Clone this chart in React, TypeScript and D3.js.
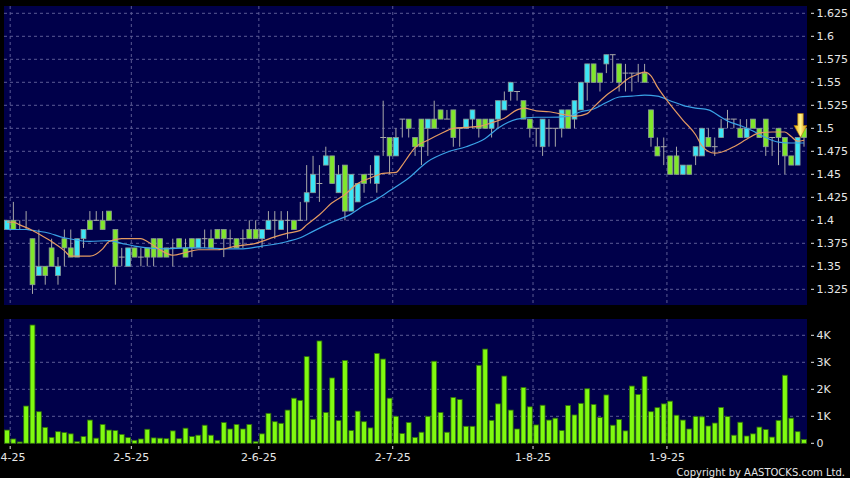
import React from "react";
import * as d3 from "d3";

// ---- data ----
const monthIdx = [1, 20, 40, 61, 83, 104];
const monthLabels = ["4-25", "2-5-25", "2-6-25", "2-7-25", "1-8-25", "1-9-25"];
const priceTicks = [1.325, 1.35, 1.375, 1.4, 1.425, 1.45, 1.475, 1.5, 1.525, 1.55, 1.575, 1.6, 1.625];
const priceTickLabels = ["1.325", "1.35", "1.375", "1.4", "1.425", "1.45", "1.475", "1.5", "1.525", "1.55", "1.575", "1.6", "1.625"];
const volTicks = [0, 1000, 2000, 3000, 4000];
const volTickLabels = ["0", "1K", "2K", "3K", "4K"];

const openP = [
  1.39, 1.40, 1.39, 1.39, 1.38, 1.34, 1.35, 1.37, 1.34, 1.38,
  1.37, 1.36, 1.38, 1.40, 1.40, 1.40, 1.41, 1.39, 1.36, 1.35,
  1.37, 1.36, 1.37, 1.38, 1.38, 1.37, 1.37, 1.38, 1.37, 1.38,
  1.37, 1.38, 1.38, 1.39, 1.39, 1.38, 1.38, 1.38, 1.39, 1.39,
  1.38, 1.39, 1.40, 1.39, 1.40, 1.40, 1.40, 1.42, 1.43, 1.44,
  1.46, 1.47, 1.43, 1.46, 1.41, 1.42, 1.45, 1.45, 1.44, 1.49,
  1.49, 1.47, 1.51, 1.51, 1.49, 1.51, 1.50, 1.51, 1.52, 1.51,
  1.52, 1.50, 1.50, 1.51, 1.51, 1.51, 1.50, 1.51, 1.52, 1.54,
  1.54, 1.53, 1.51, 1.50, 1.48, 1.50, 1.50, 1.50, 1.52, 1.51,
  1.52, 1.55, 1.57, 1.56, 1.57, 1.58, 1.57, 1.56, 1.56, 1.56,
  1.56, 1.52, 1.48, 1.48, 1.47, 1.47, 1.45, 1.46, 1.47, 1.47,
  1.49, 1.48, 1.49, 1.51, 1.51, 1.50, 1.49, 1.51, 1.50, 1.51,
  1.49, 1.50, 1.49, 1.47, 1.46, 1.50,
];
const closeP = [
  1.40, 1.39, 1.39, 1.39, 1.33, 1.35, 1.34, 1.35, 1.35, 1.37,
  1.36, 1.38, 1.39, 1.39, 1.40, 1.39, 1.40, 1.35, 1.36, 1.37,
  1.36, 1.36, 1.36, 1.36, 1.36, 1.36, 1.37, 1.37, 1.36, 1.37,
  1.38, 1.38, 1.37, 1.38, 1.38, 1.38, 1.37, 1.38, 1.38, 1.38,
  1.39, 1.40, 1.40, 1.40, 1.40, 1.39, 1.40, 1.43, 1.45, 1.44,
  1.47, 1.44, 1.45, 1.41, 1.45, 1.44, 1.44, 1.45, 1.47, 1.49,
  1.47, 1.49, 1.51, 1.50, 1.48, 1.48, 1.51, 1.50, 1.51, 1.51,
  1.49, 1.50, 1.51, 1.52, 1.50, 1.50, 1.51, 1.53, 1.53, 1.55,
  1.54, 1.51, 1.50, 1.50, 1.51, 1.50, 1.50, 1.52, 1.50, 1.53,
  1.55, 1.57, 1.55, 1.55, 1.58, 1.58, 1.55, 1.56, 1.56, 1.56,
  1.55, 1.49, 1.47, 1.48, 1.45, 1.45, 1.46, 1.45, 1.48, 1.50,
  1.48, 1.48, 1.50, 1.51, 1.51, 1.49, 1.50, 1.50, 1.49, 1.48,
  1.49, 1.49, 1.47, 1.46, 1.49, 1.49,
];
const highP = [
  1.40, 1.42, 1.40, 1.41, 1.38, 1.39, 1.35, 1.38, 1.36, 1.39,
  1.39, 1.38, 1.39, 1.41, 1.41, 1.41, 1.41, 1.39, 1.37, 1.37,
  1.37, 1.37, 1.37, 1.38, 1.38, 1.37, 1.38, 1.38, 1.38, 1.38,
  1.38, 1.39, 1.39, 1.39, 1.39, 1.39, 1.38, 1.39, 1.40, 1.40,
  1.39, 1.41, 1.41, 1.41, 1.41, 1.40, 1.42, 1.46, 1.47, 1.46,
  1.48, 1.47, 1.46, 1.46, 1.45, 1.44, 1.45, 1.46, 1.47, 1.53,
  1.49, 1.50, 1.51, 1.51, 1.49, 1.51, 1.51, 1.53, 1.52, 1.52,
  1.52, 1.50, 1.51, 1.52, 1.51, 1.51, 1.51, 1.53, 1.54, 1.55,
  1.54, 1.53, 1.51, 1.50, 1.51, 1.51, 1.50, 1.52, 1.52, 1.53,
  1.55, 1.57, 1.57, 1.56, 1.58, 1.58, 1.57, 1.57, 1.56, 1.57,
  1.57, 1.52, 1.49, 1.49, 1.47, 1.48, 1.46, 1.46, 1.48, 1.50,
  1.50, 1.49, 1.51, 1.52, 1.51, 1.51, 1.51, 1.51, 1.50, 1.51,
  1.49, 1.50, 1.49, 1.47, 1.49, 1.50,
];
const lowP = [
  1.39, 1.39, 1.39, 1.39, 1.32, 1.34, 1.33, 1.35, 1.33, 1.35,
  1.36, 1.36, 1.37, 1.39, 1.40, 1.39, 1.40, 1.33, 1.35, 1.35,
  1.36, 1.35, 1.35, 1.35, 1.36, 1.36, 1.35, 1.37, 1.36, 1.36,
  1.37, 1.37, 1.37, 1.38, 1.36, 1.37, 1.37, 1.37, 1.38, 1.38,
  1.37, 1.39, 1.38, 1.39, 1.38, 1.39, 1.40, 1.40, 1.43, 1.42,
  1.46, 1.44, 1.43, 1.40, 1.41, 1.42, 1.43, 1.44, 1.43, 1.47,
  1.45, 1.47, 1.49, 1.49, 1.47, 1.46, 1.47, 1.50, 1.51, 1.51,
  1.48, 1.48, 1.50, 1.50, 1.49, 1.50, 1.49, 1.50, 1.52, 1.53,
  1.53, 1.51, 1.49, 1.48, 1.47, 1.48, 1.48, 1.49, 1.50, 1.50,
  1.52, 1.53, 1.55, 1.54, 1.56, 1.55, 1.54, 1.54, 1.54, 1.55,
  1.55, 1.48, 1.47, 1.46, 1.45, 1.45, 1.45, 1.45, 1.46, 1.47,
  1.48, 1.47, 1.49, 1.50, 1.50, 1.49, 1.49, 1.50, 1.49, 1.47,
  1.47, 1.46, 1.45, 1.46, 1.46, 1.48,
];
const volumeK = [
  0.49, 0.16, 0.05, 1.38, 4.38, 1.17, 0.59, 0.22, 0.43, 0.40,
  0.35, 0.06, 0.25, 0.86, 0.19, 0.70, 0.49, 0.47, 0.33, 0.21,
  0.11, 0.16, 0.52, 0.20, 0.19, 0.17, 0.46, 0.17, 0.56, 0.25,
  0.30, 0.67, 0.30, 0.11, 0.77, 0.53, 0.70, 0.53, 0.70, 0.06,
  0.35, 1.11, 0.80, 0.74, 1.23, 1.67, 1.59, 3.21, 0.89, 3.79,
  1.14, 2.42, 0.84, 3.07, 0.47, 1.19, 0.80, 0.57, 3.33, 3.12,
  1.67, 1.00, 0.36, 0.77, 0.22, 0.41, 1.00, 3.04, 1.14, 0.41,
  1.70, 1.62, 0.63, 0.63, 2.89, 3.49, 0.85, 1.46, 2.49, 1.23,
  0.53, 2.07, 1.35, 0.68, 1.41, 0.86, 0.93, 0.47, 1.40, 1.05,
  1.48, 2.02, 1.44, 0.96, 1.79, 0.67, 0.88, 0.46, 2.12, 1.81,
  2.48, 1.17, 1.32, 1.46, 1.56, 1.04, 0.86, 0.53, 0.99, 0.98,
  0.64, 0.75, 1.33, 0.99, 0.30, 0.78, 0.27, 0.35, 0.60, 0.51,
  0.23, 0.85, 2.52, 0.93, 0.43, 0.14,
];
// moving averages: [bar index, value]
const maShort: [number, number][] = [
  [0, 1.398], [1, 1.398], [2, 1.395], [4, 1.389], [5, 1.385], [7, 1.377], [9, 1.367], [10, 1.361],
  [13, 1.361], [15, 1.369], [16, 1.377], [18, 1.38], [21, 1.38], [22, 1.377], [24, 1.368], [26, 1.362],
  [28, 1.365], [30, 1.368], [33, 1.368], [36, 1.372], [39, 1.375], [42, 1.382], [44, 1.386], [46, 1.389],
  [47, 1.395], [49, 1.406], [51, 1.419], [53, 1.428], [55, 1.44], [57, 1.446], [59, 1.451], [61, 1.452],
  [62, 1.46], [63, 1.47], [64, 1.479], [66, 1.487], [68, 1.494], [70, 1.5], [72, 1.501], [74, 1.502],
  [76, 1.506], [78, 1.511], [80, 1.52], [81, 1.522], [83, 1.519], [85, 1.518], [88, 1.514], [89, 1.513],
  [91, 1.516], [92, 1.523], [94, 1.536], [96, 1.546], [97, 1.552], [99, 1.559], [100, 1.561], [101, 1.557],
  [102, 1.545], [104, 1.526], [106, 1.509], [108, 1.493], [109, 1.481], [111, 1.473], [112, 1.474],
  [114, 1.48], [116, 1.488], [118, 1.495], [120, 1.496], [122, 1.496], [123, 1.491], [124, 1.486], [125, 1.487],
];
const maLong: [number, number][] = [
  [0, 1.39], [3, 1.39], [4, 1.389], [6, 1.387], [9, 1.381], [13, 1.377], [16, 1.378], [18, 1.375],
  [20, 1.372], [22, 1.37], [25, 1.369], [28, 1.37], [31, 1.37], [34, 1.369], [37, 1.369], [40, 1.372],
  [42, 1.374], [44, 1.377], [46, 1.381], [48, 1.388], [51, 1.398], [54, 1.407], [56, 1.416], [58, 1.423],
  [60, 1.432], [63, 1.446], [66, 1.464], [69, 1.474], [72, 1.48], [75, 1.489], [77, 1.5], [80, 1.51],
  [83, 1.512], [85, 1.512], [88, 1.513], [90, 1.518], [92, 1.521], [94, 1.528], [96, 1.534], [98, 1.535],
  [100, 1.536], [102, 1.535], [104, 1.53], [106, 1.525], [108, 1.522], [110, 1.52], [112, 1.512],
  [113, 1.508], [115, 1.503], [117, 1.497], [119, 1.49], [121, 1.485], [123, 1.484], [125, 1.484],
];
const signalIndex = 125;
const signalPrice = 1.49;

// ---- styles ----
const BG = "#000000";
const PANEL = "#00004a";
const GRID = "#5a5a94";
const TEXT = "#e6e6e6";
const UP_FILL = "#3ce6f6";
const DOWN_FILL = "#80e62c";
const BODY_STROKE = "#8a9a96";
const WICK = "#a8a8a8";
const VOL_FILL = "#80fa10";
const VOL_STROKE = "#2f6e0c";
const MA_SHORT = "#e49a62";
const MA_LONG = "#3aa2e6";
const FONT = "'DejaVu Sans', Verdana, sans-serif";

export default function App() {
  const n = openP.length;
  const x = d3.scaleBand<number>().domain(d3.range(n)).range([3.8, 807.2]).padding(0);
  const bw = x.bandwidth();
  const cx = (i: number) => (x(i) as number) + bw / 2;
  const yP = d3.scaleLinear().domain([1.325, 1.625]).range([289.3, 13.3]);
  const yV = d3.scaleLinear().domain([0, 4000]).range([443.3, 335.3]);

  const priceTop = 6, priceBottom = 305;
  const volTop = 319, volBottom = yV(0);
  const left = 4, right = 807;

  const lineGen = d3
    .line<[number, number]>()
    .x((d) => cx(d[0]))
    .y((d) => yP(d[1]))
    .curve(d3.curveMonotoneX);

  const bodyW = bw * 0.76;

  const ax = cx(signalIndex) - 3.5;
  const tipY = yP(signalPrice);

  return (
    <svg
      width={850}
      height={478}
      style={{ position: "absolute", left: 0, top: 0, display: "block", background: BG }}
      fontFamily={FONT}
    >
      <defs>
        <linearGradient id="arrowGrad" x1="0" x2="1" y1="0" y2="0">
          <stop offset="0" stopColor="#e8a800" />
          <stop offset="0.5" stopColor="#fff08a" />
          <stop offset="1" stopColor="#d89000" />
        </linearGradient>
        <clipPath id="pclip">
          <rect x={left} y={priceTop} width={right - left} height={priceBottom - priceTop} />
        </clipPath>
      </defs>
      <rect x={0} y={0} width={850} height={478} fill={BG} />
      {/* panels */}
      <rect x={left} y={priceTop} width={right - left} height={priceBottom - priceTop} fill={PANEL} />
      <rect x={left} y={volTop} width={right - left} height={volBottom - volTop} fill={PANEL} />

      {/* price grid */}
      {priceTicks.map((p) => (
        <line key={"pg" + p} x1={left} x2={right} y1={yP(p)} y2={yP(p)} stroke={GRID} strokeDasharray="3,3" strokeWidth={1} />
      ))}
      {monthIdx.map((i) => (
        <line key={"vg" + i} x1={x(i)} x2={x(i)} y1={priceTop} y2={priceBottom} stroke={GRID} strokeDasharray="3,3" strokeWidth={1} />
      ))}
      {/* volume grid */}
      {volTicks.slice(1).map((v) => (
        <line key={"vgh" + v} x1={left} x2={right} y1={yV(v)} y2={yV(v)} stroke={GRID} strokeDasharray="3,3" strokeWidth={1} />
      ))}
      {monthIdx.map((i) => (
        <line key={"vgv" + i} x1={x(i)} x2={x(i)} y1={volTop} y2={volBottom} stroke={GRID} strokeDasharray="3,3" strokeWidth={1} />
      ))}

      {/* candles */}
      <g clipPath="url(#pclip)">
        {openP.map((o, i) => (
          <line key={"w" + i} x1={cx(i)} x2={cx(i)} y1={yP(highP[i])} y2={yP(lowP[i])} stroke={WICK} strokeWidth={1} />
        ))}
        {openP.map((o, i) => {
          const c = closeP[i];
          if (Math.abs(o - c) < 1e-9) {
            return (
              <line key={"b" + i} x1={cx(i) - bodyW / 2 - 0.5} x2={cx(i) + bodyW / 2 + 0.5} y1={yP(c)} y2={yP(c)} stroke={WICK} strokeWidth={1} />
            );
          }
          const top = yP(Math.max(o, c));
          const bot = yP(Math.min(o, c));
          return (
            <rect
              key={"b" + i}
              x={cx(i) - bodyW / 2}
              y={top}
              width={bodyW}
              height={bot - top}
              fill={c > o ? UP_FILL : DOWN_FILL}
              stroke={BODY_STROKE}
              strokeWidth={0.8}
            />
          );
        })}
        <path d={lineGen(maLong) || ""} fill="none" stroke={MA_LONG} strokeWidth={1.2} />
        <path d={lineGen(maShort) || ""} fill="none" stroke={MA_SHORT} strokeWidth={1.2} />
        {/* signal arrow */}
        <path
          d={`M${ax - 2.8},${tipY - 24} L${ax + 2.8},${tipY - 24} L${ax + 2.8},${tipY - 12} L${ax + 6.5},${tipY - 12} L${ax},${tipY} L${ax - 6.5},${tipY - 12} L${ax - 2.8},${tipY - 12} Z`}
          fill="url(#arrowGrad)"
          stroke="#b07800"
          strokeWidth={0.6}
        />
      </g>

      {/* volume bars */}
      {volumeK.map((v, i) => (
        <rect
          key={"v" + i}
          x={cx(i) - bodyW / 2}
          y={yV(v * 1000)}
          width={bodyW}
          height={volBottom - yV(v * 1000)}
          fill={VOL_FILL}
          stroke={VOL_STROKE}
          strokeWidth={0.8}
        />
      ))}

      {/* right axis: price */}
      {priceTicks.map((p, k) => (
        <g key={"pl" + p}>
          <line x1={811} x2={814} y1={yP(p)} y2={yP(p)} stroke={TEXT} strokeWidth={1} />
          <text x={816.5} y={yP(p)} dy="0.36em" fontSize={11} fill={TEXT}>
            {priceTickLabels[k]}
          </text>
        </g>
      ))}
      {/* right axis: volume */}
      {volTicks.map((v, k) => (
        <g key={"vl" + v}>
          <line x1={811} x2={814} y1={yV(v)} y2={yV(v)} stroke={TEXT} strokeWidth={1} />
          <text x={816.5} y={yV(v)} dy="0.36em" fontSize={11} fill={TEXT}>
            {volTickLabels[k]}
          </text>
        </g>
      ))}

      {/* date axis */}
      {monthIdx.map((i, k) => (
        <g key={"d" + i}>
          <line x1={x(i)} x2={x(i)} y1={446} y2={449} stroke={TEXT} strokeWidth={1} />
          <text
            x={k === 0 ? 0.5 : x(i)}
            y={457.5}
            dy="0.36em"
            textAnchor={k === 0 ? "start" : "middle"}
            fontSize={11}
            fill={TEXT}
          >
            {monthLabels[k]}
          </text>
        </g>
      ))}

      <text x={845} y={472} dy="0.36em" textAnchor="end" fontSize={10} fill={TEXT}>
        Copyright by AASTOCKS.com Ltd.
      </text>
    </svg>
  );
}
